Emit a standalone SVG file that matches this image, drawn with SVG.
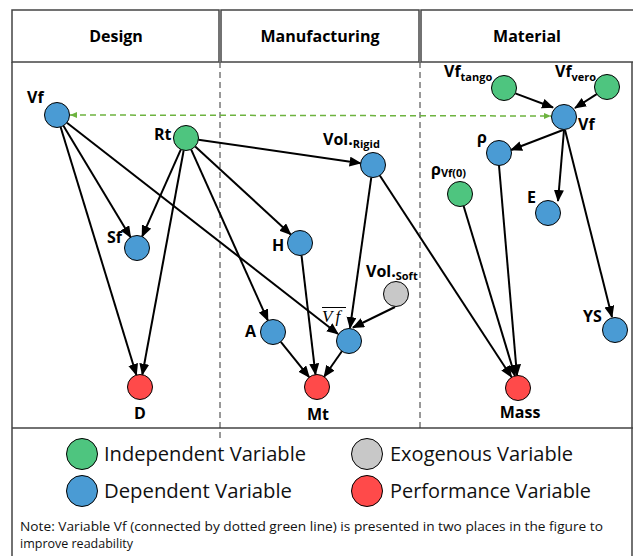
<svg xmlns="http://www.w3.org/2000/svg" width="633" height="556" viewBox="0 0 633 556">
<style>
.hdr{fill:#fff;stroke:#444;stroke-width:1.5}
.ht{font-family:"Open Sans","Liberation Sans",sans-serif;font-weight:bold;font-size:16px;fill:#000;text-anchor:middle}
.lb{font-family:"Open Sans","Liberation Sans",sans-serif;font-weight:bold;font-size:16px;fill:#000}
.sub{font-size:11px}
.frame{stroke:#444;stroke-width:1.5;fill:none}
.dash{stroke:#333;stroke-width:1;stroke-dasharray:6,4;fill:none}
.e{stroke:#000;stroke-width:2;fill:none;marker-end:url(#ah)}
.n{stroke:#000;stroke-width:1}
.ind{fill:#4EC57F}
.dep{fill:#4A9BD4}
.per{fill:#FF4A4A}
.exo{fill:#C8C8C8}
.lg{font-family:"Open Sans","Liberation Sans",sans-serif;font-size:19.5px;fill:#111}
.note{font-family:"Open Sans","Liberation Sans",sans-serif;font-size:12.5px;fill:#111}
</style>
<defs>
<marker id="ah" markerUnits="userSpaceOnUse" markerWidth="13" markerHeight="11" refX="11" refY="5" orient="auto">
<path d="M0,0 L12,5 L0,10 Z" fill="#000"/>
</marker>
<marker id="gh" markerUnits="userSpaceOnUse" markerWidth="8" markerHeight="7" refX="7" refY="3" orient="auto-start-reverse">
<path d="M0,0 L7,3 L0,6 Z" fill="#6DB33F"/>
</marker>
</defs>
<rect width="633" height="556" fill="#fff"/>
<g id="frame">
<rect class="hdr" x="12" y="10" width="207" height="52"/>
<rect class="hdr" x="221" y="10" width="198" height="52"/>
<rect class="hdr" x="421" y="10" width="213" height="52"/>
<text class="ht" x="116" y="42">Design</text>
<text class="ht" x="320" y="42">Manufacturing</text>
<text class="ht" x="527" y="42">Material</text>
<path class="frame" d="M12,62 V556 M632,62 V556 M12,428 H633"/>
<path class="dash" d="M220,62 V442 M420,62 V430"/>
</g>
<g id="connectors">
<line x1="70" y1="115" x2="551" y2="116" stroke="#6DB33F" stroke-width="1.5" stroke-dasharray="6,4" marker-start="url(#gh)" marker-end="url(#gh)"/>
<line class="e" x1="63.4" y1="125.7" x2="130.6" y2="237.3"/>
<line class="e" x1="60.6" y1="127" x2="136.4" y2="375"/>
<line class="e" x1="66.9" y1="122.7" x2="338" y2="334"/>
<line class="e" x1="180.9" y1="149.4" x2="142.1" y2="236.6"/>
<line class="e" x1="183.7" y1="150.3" x2="142.3" y2="374.7"/>
<line class="e" x1="191.1" y1="149.4" x2="267.9" y2="320.6"/>
<line class="e" x1="195.2" y1="146.5" x2="290.8" y2="234.5"/>
<line class="e" x1="198.4" y1="139.8" x2="360.6" y2="163.2"/>
<line class="e" x1="371.3" y1="177.4" x2="350" y2="328"/>
<line class="e" x1="379.8" y1="175.5" x2="511.5" y2="377"/>
<line class="e" x1="301.5" y1="255.4" x2="315.5" y2="374.6"/>
<line class="e" x1="280.8" y1="341.8" x2="309.2" y2="377.2"/>
<line class="e" x1="341.9" y1="351.3" x2="324.1" y2="376.7"/>
<line class="e" x1="395" y1="307" x2="353" y2="327.5"/>
<line class="e" x1="515.3" y1="93.4" x2="553" y2="107.5"/>
<line class="e" x1="596.7" y1="94.2" x2="575" y2="108"/>
<line class="e" x1="563" y1="130" x2="511" y2="150"/>
<line class="e" x1="564" y1="130" x2="558" y2="201"/>
<line class="e" x1="565" y1="130" x2="612" y2="317"/>
<line class="e" x1="499" y1="165.5" x2="517" y2="375.5"/>
<line class="e" x1="463.6" y1="206" x2="515" y2="376"/>
</g>
<g id="n-vf-design"><circle class="n dep" cx="57" cy="115" r="12.5"/><text class="lb" x="27" y="103">Vf</text></g>
<g id="n-rt"><circle class="n ind" cx="186" cy="138" r="12.5"/><text class="lb" x="154" y="140">Rt</text></g>
<g id="n-sf"><circle class="n dep" cx="137" cy="248" r="12.5"/><text class="lb" x="107" y="243">Sf</text></g>
<g id="n-d"><circle class="n per" cx="140" cy="387" r="12.5"/><text class="lb" x="140" y="419" text-anchor="middle">D</text></g>
<g id="n-volrigid"><circle class="n dep" cx="373" cy="165" r="12.5"/><text class="lb" x="323" y="145">Vol.<tspan class="sub" dy="3">Rigid</tspan></text></g>
<g id="n-h"><circle class="n dep" cx="300" cy="243" r="12.5"/><text class="lb" x="272" y="251">H</text></g>
<g id="n-volsoft"><circle class="n exo" cx="396" cy="294" r="12.5"/><text class="lb" x="366" y="277">Vol.<tspan class="sub" dy="3">Soft</tspan></text></g>
<g id="n-vfbar"><circle class="n dep" cx="349" cy="341" r="12.5"/><text x="322" y="322" font-family="Liberation Serif,serif" font-style="italic" font-size="17" letter-spacing="3">Vf</text><line x1="322" y1="307.5" x2="346" y2="307.5" stroke="#000" stroke-width="1"/></g>
<g id="n-a"><circle class="n dep" cx="273" cy="332" r="12.5"/><text class="lb" x="245" y="337">A</text></g>
<g id="n-mt"><circle class="n per" cx="317" cy="387" r="12.5"/><text class="lb" x="318" y="420" text-anchor="middle">Mt</text></g>
<g id="n-vftango"><circle class="n ind" cx="504" cy="88" r="12.5"/><text class="lb" x="444" y="77">Vf<tspan class="sub" dy="4">tango</tspan></text></g>
<g id="n-vfvero"><circle class="n ind" cx="607" cy="87" r="12.5"/><text class="lb" x="555" y="77">Vf<tspan class="sub" dy="4">vero</tspan></text></g>
<g id="n-vf-material"><circle class="n dep" cx="564" cy="117" r="12.5"/><text class="lb" x="578" y="130">Vf</text></g>
<g id="n-rho"><circle class="n dep" cx="499" cy="153" r="12.5"/><text class="lb" x="477" y="143">ρ</text></g>
<g id="n-rho0"><circle class="n ind" cx="460" cy="194" r="12.5"/><text class="lb" x="431" y="175">ρ<tspan class="sub" dy="2">Vf(0)</tspan></text></g>
<g id="n-e"><circle class="n dep" cx="548" cy="213" r="12.5"/><text class="lb" x="527" y="203">E</text></g>
<g id="n-ys"><circle class="n dep" cx="615" cy="330" r="12.5"/><text class="lb" x="583" y="322">YS</text></g>
<g id="n-mass"><circle class="n per" cx="518" cy="388" r="12.5"/><text class="lb" x="520" y="418" text-anchor="middle">Mass</text></g>
<g id="legend">
<circle class="n ind" cx="82" cy="454" r="15.5"/>
<text class="lg" x="104" y="461" textLength="202" lengthAdjust="spacingAndGlyphs">Independent Variable</text>
<circle class="n dep" cx="82" cy="491" r="15.5"/>
<text class="lg" x="104" y="498" textLength="188" lengthAdjust="spacingAndGlyphs">Dependent Variable</text>
<circle class="n exo" cx="367" cy="454" r="15.5"/>
<text class="lg" x="390" y="461" textLength="183" lengthAdjust="spacingAndGlyphs">Exogenous Variable</text>
<circle class="n per" cx="367" cy="491" r="15.5"/>
<text class="lg" x="390" y="498" textLength="201" lengthAdjust="spacingAndGlyphs">Performance Variable</text>
<text class="note" x="20" y="531" textLength="583" lengthAdjust="spacingAndGlyphs">Note: Variable Vf (connected by dotted green line) is presented in two places in the figure to</text>
<text class="note" x="20" y="548">improve readability</text>
</g>
</svg>
